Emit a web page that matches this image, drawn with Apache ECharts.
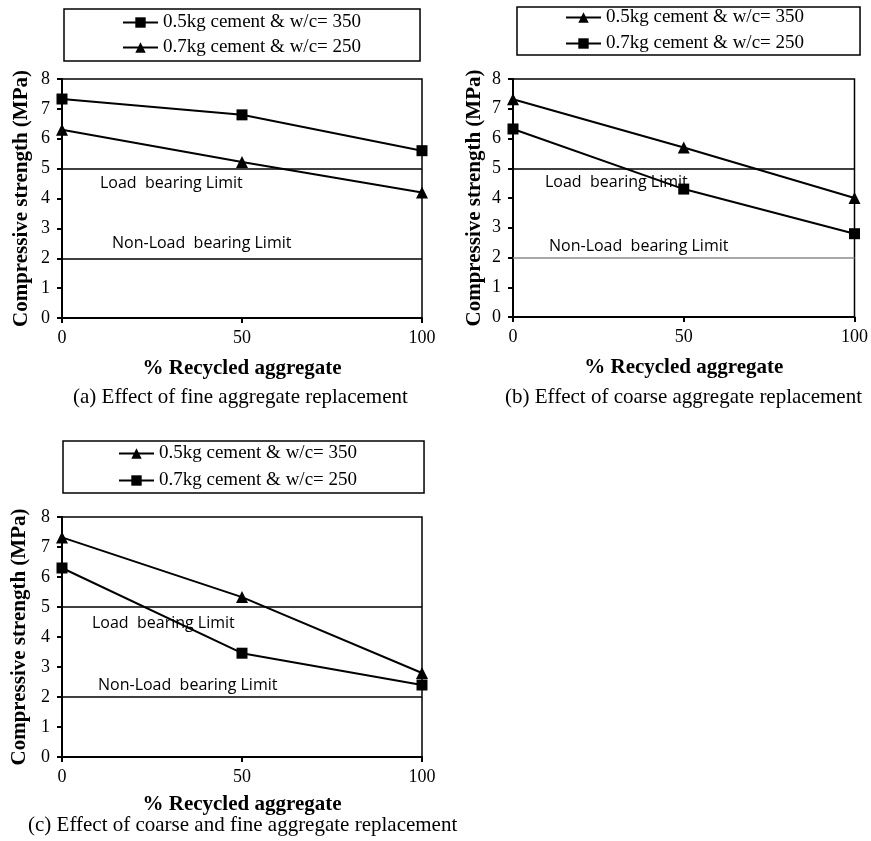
<!DOCTYPE html>
<html>
<head>
<meta charset="utf-8">
<script src="https://cdn.jsdelivr.net/npm/echarts@6/dist/echarts.min.js"></script>
<style>
    html, body { margin: 0; padding: 0; background: #fff; }
    #chart { width: 871px; height: 841px; }
</style>
</head>
<body>
<div id="chart"></div>
<script>
// x values (% recycled aggregate)
const recycled = [0, 50, 100];

// (a) fine aggregate replacement
const fine05 = [7.33, 6.8, 5.6];
const fine07 = [6.3, 5.22, 4.2];
// (b) coarse aggregate replacement
const coarse05 = [7.32, 5.7, 4.0];
const coarse07 = [6.32, 4.3, 2.8];
// (c) coarse and fine aggregate replacement
const both05 = [7.32, 5.33, 2.8];
const both07 = [6.3, 3.46, 2.4];

const seriesLabels = ["0.5kg cement & w/c= 350", "0.7kg cement & w/c= 250"];
const limits = [5, 2];
const limitLabels = ["Load  bearing Limit", "Non-Load  bearing Limit"];
const captions = [
    "(a) Effect of fine aggregate replacement",
    "(b) Effect of coarse aggregate replacement",
    "(c) Effect of coarse and fine aggregate replacement",
];
const xTicks = [0, 50, 100];
const yTicks = [0, 1, 2, 3, 4, 5, 6, 7, 8];

const serif = "Liberation Serif";
const sans = "Open Sans";

const pairs = (ys) => recycled.map((x, i) => [x, ys[i]]);

// legend name -> printed label
const nameMap = {
    a1: seriesLabels[0], a2: seriesLabels[1],
    b1: seriesLabels[0], b2: seriesLabels[1],
    c1: seriesLabels[0], c2: seriesLabels[1],
};

const grids = [
    { left: 62, top: 79, width: 360, height: 239, show: true, borderColor: "#000", borderWidth: 1.5 },
    { left: 513, top: 79, width: 346, height: 238, show: true, borderColor: "#000", borderWidth: 1.5 },
    { left: 62, top: 517, width: 360, height: 240, show: true, borderColor: "#000", borderWidth: 1.5 },
];

function makeX(i, gap) {
    return {
        type: "value",
        gridIndex: i,
        min: xTicks[0],
        max: xTicks[xTicks.length - 1],
        interval: 50,
        name: "% Recycled aggregate",
        nameLocation: "middle",
        nameGap: gap,
        nameTextStyle: { fontFamily: serif, fontWeight: "bold", fontSize: 21, color: "#000" },
        axisLine: { lineStyle: { color: "#000", width: 2 } },
        axisTick: { show: true, length: 5, lineStyle: { color: "#000", width: 2 } },
        axisLabel: { fontFamily: serif, fontSize: 18, color: "#000", margin: 11 },
        splitLine: { show: false },
    };
}

function makeY(i, gap) {
    return {
        type: "value",
        gridIndex: i,
        min: yTicks[0],
        max: yTicks[yTicks.length - 1],
        interval: 1,
        name: "Compressive strength (MPa)",
        nameLocation: "middle",
        nameGap: gap,
        nameTextStyle: { fontFamily: serif, fontWeight: "bold", fontSize: 21, color: "#000" },
        axisLine: { show: true, lineStyle: { color: "#000", width: 2 } },
        axisTick: { show: true, length: 5, lineStyle: { color: "#000", width: 2 } },
        axisLabel: { fontFamily: serif, fontSize: 18, color: "#000", margin: 12 },
        splitLine: { show: false },
    };
}

function limitLines(lowColor, loadDist, nonDist) {
    return {
        silent: true,
        symbol: "none",
        animation: false,
        data: [
            {
                yAxis: limits[0],
                lineStyle: { color: "#000", width: 1.5, type: "solid" },
                label: {
                    show: true,
                    formatter: limitLabels[0],
                    position: "insideStartBottom",
                    distance: loadDist,
                    fontFamily: sans,
                    fontSize: 16,
                    color: "#000",
                },
            },
            {
                yAxis: limits[1],
                lineStyle: { color: lowColor, width: 1.5, type: "solid" },
                label: {
                    show: true,
                    formatter: limitLabels[1],
                    position: "insideStartTop",
                    distance: nonDist,
                    fontFamily: sans,
                    fontSize: 16,
                    color: "#000",
                },
            },
        ],
    };
}

function makeLine(name, i, ys, symbol, extra) {
    return Object.assign({
        name: name,
        type: "line",
        xAxisIndex: i,
        yAxisIndex: i,
        data: pairs(ys),
        symbol: symbol,
        symbolSize: symbol === "triangle" ? 12 : 11,
        showAllSymbol: true,
        lineStyle: { color: "#000", width: 2 },
        itemStyle: { color: "#000" },
        animation: false,
    }, extra || {});
}

function makeLegend(names, left, top, padding, gap) {
    return {
        data: names,
        orient: "vertical",
        left: left,
        top: top,
        padding: padding,
        itemGap: gap,
        itemWidth: 35,
        itemHeight: 13,
        borderColor: "#000",
        borderWidth: 1.5,
        formatter: (n) => nameMap[n],
        textStyle: { fontFamily: serif, fontSize: 19, color: "#000" },
        selectedMode: false,
    };
}

const captionStyle = { fontFamily: serif, fontWeight: "normal", fontSize: 21, color: "#000" };

const chart = echarts.init(document.getElementById("chart"));

const option = {
    backgroundColor: "#fff",
    animation: false,
    title: [
        { text: captions[0], left: 73, top: 387, textStyle: captionStyle, padding: 0 },
        { text: captions[1], left: 505, top: 387, textStyle: captionStyle, padding: 0 },
        { text: captions[2], left: 28, top: 815, textStyle: captionStyle, padding: 0 },
    ],
    legend: [
        makeLegend(["a1", "a2"], 64, 9, [4, 59, 4, 58], 6),
        makeLegend(["b1", "b2"], 517, 7, [1, 56, 2, 48], 7),
        makeLegend(["c1", "c2"], 63, 441, [3, 67, 3, 55], 8),
    ],
    grid: grids,
    xAxis: [makeX(0, 40), makeX(1, 40), makeX(2, 37)],
    yAxis: [makeY(0, 29.5), makeY(1, 27.5), makeY(2, 31.5)],
    series: [
        makeLine("a1", 0, fine05, "rect", { markLine: limitLines("#000", [38, 7], [50, 7]) }),
        makeLine("a2", 0, fine07, "triangle"),
        makeLine("b1", 1, coarse05, "triangle", { markLine: limitLines("#8c8c8c", [32, 6], [36, 3.5]) }),
        makeLine("b2", 1, coarse07, "rect"),
        makeLine("c1", 2, both05, "triangle", { markLine: limitLines("#000", [30, 8.5], [36, 4]) }),
        makeLine("c2", 2, both07, "rect"),
    ],
};

chart.setOption(option);
</script>
</body>
</html>
